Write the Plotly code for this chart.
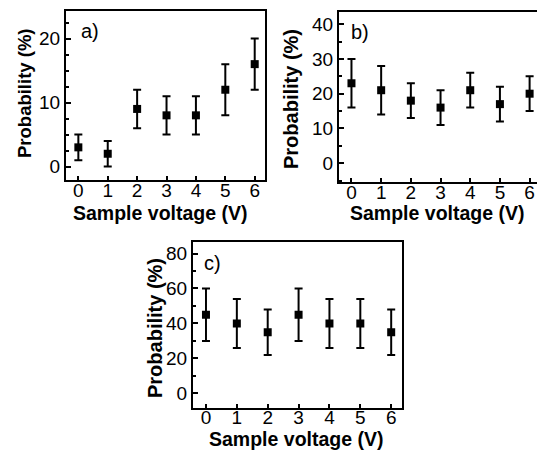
import plotly.graph_objects as go

FONT = "Liberation Sans, Arial, sans-serif"

voltage = [0, 1, 2, 3, 4, 5, 6]

prob_a = [3, 2, 9, 8, 8, 12, 16]
err_a = [2, 2, 3, 3, 3, 4, 4]

prob_b = [23, 21, 18, 16, 21, 17, 20]
err_b = [7, 7, 5, 5, 5, 5, 5]

prob_c = [45, 40, 35, 45, 40, 40, 35]
err_c = [15, 14, 13, 15, 14, 14, 13]

# the page body has an 8px margin, so the figure is drawn 8px in from the window edge
PAD = 8
W, H = 545 - PAD, 457 - PAD


def px_x(v):
    return (v - PAD) / W


def px_y(v):
    return 1 - (v - PAD) / H


fig = go.Figure()

panels = [
    # suffix, values, errors, x px, y px, y range, major, minor, label, label pos, ytitle pos, ytitle size, xtitle pos
    ("", prob_a, err_a, (66, 265), (11, 180), [-2.1, 24.3], 10, 2.5, "a)", (90, 31), (25, 93), 18.5, (160, 213)),
    ("2", prob_b, err_b, (339, 540), (12, 182), [-5.4, 43.5], 10, 5, "b)", (360, 32), (291, 99), 20, (437, 213)),
    ("3", prob_c, err_c, (193, 402), (242, 407.5), [-8.1, 86.6], 20, 10, "c)", (212, 263), (155, 328), 20, (296, 439)),
]

annotations = []
for suf, yv, ev, xd, yd, yr, major, minor, label, lpos, ytpos, ytsize, xtpos in panels:
    fig.add_trace(
        go.Scatter(
            x=voltage,
            y=yv,
            mode="markers",
            marker=dict(symbol="square", size=8, color="black"),
            error_y=dict(type="data", array=ev, visible=True, color="black", thickness=2, width=4),
            xaxis="x" + suf,
            yaxis="y" + suf,
            showlegend=False,
        )
    )
    axis_common = dict(
        showline=True,
        linecolor="black",
        linewidth=2,
        mirror=True,
        showgrid=False,
        zeroline=False,
        ticks="inside",
        tickcolor="black",
        tickwidth=1.5,
        tickfont=dict(family=FONT, size=19, color="black"),
    )
    fig.update_layout(
        {
            "xaxis" + suf: dict(
                axis_common,
                domain=[px_x(xd[0]), px_x(xd[1])],
                range=[-0.42, 6.35],
                tickvals=voltage,
                ticklen=4,
                ticklabelstandoff=-8,
                anchor="y" + suf,
            ),
            "yaxis" + suf: dict(
                axis_common,
                domain=[px_y(yd[1]), px_y(yd[0])],
                range=yr,
                dtick=major,
                tick0=0,
                ticklen=5,
                minor=dict(ticks="inside", dtick=minor, tick0=0, ticklen=3, tickcolor="black", tickwidth=1.5),
                anchor="x" + suf,
            ),
        }
    )
    common = dict(xref="paper", yref="paper", xanchor="center", yanchor="middle", showarrow=False)
    annotations.append(
        dict(common, text=label, x=px_x(lpos[0]), y=px_y(lpos[1]),
             font=dict(family=FONT, size=20, color="black"))
    )
    annotations.append(
        dict(common, text="<b>Probability (%)</b>", x=px_x(ytpos[0]), y=px_y(ytpos[1]), textangle=-90,
             font=dict(family=FONT, size=ytsize, color="black"))
    )
    annotations.append(
        dict(common, text="<b>Sample voltage (V)</b>", x=px_x(xtpos[0]), y=px_y(xtpos[1]),
             font=dict(family=FONT, size=19.5, color="black"))
    )

fig.update_layout(
    width=W,
    height=H,
    margin=dict(l=0, r=0, t=0, b=0),
    paper_bgcolor="white",
    plot_bgcolor="white",
    font=dict(family=FONT, color="black"),
    annotations=annotations,
)

fig.write_html("out.html")
